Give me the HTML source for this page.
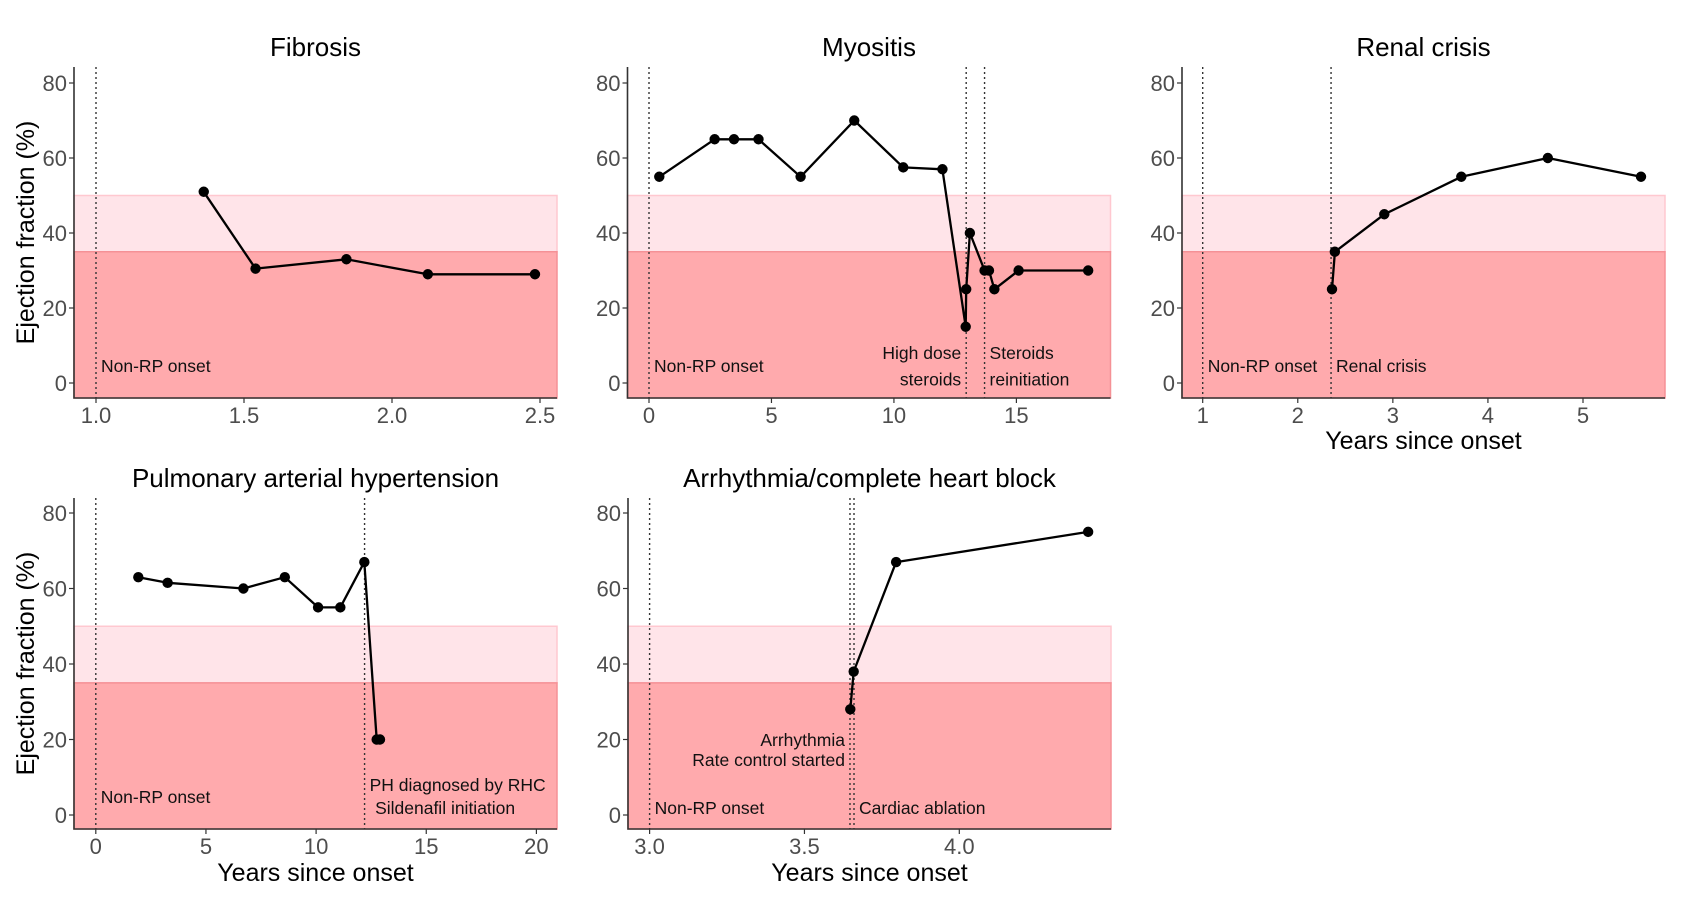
<!DOCTYPE html>
<html><head><meta charset="utf-8">
<style>
html,body{margin:0;padding:0;background:#fff;}
svg{display:block;font-family:"Liberation Sans",Arial,sans-serif;}
</style></head>
<body>
<svg id="chart" width="1686" height="906" viewBox="0 0 1686 906" xmlns="http://www.w3.org/2000/svg"></svg>
<script>
// ---- data ----
const yTicks = [0, 20, 40, 60, 80];
const fibX = [1.364, 1.539, 1.846, 2.121, 2.483];
const fibY = [51, 30.5, 33, 29, 29];
const fibTicks = [1.0, 1.5, 2.0, 2.5];
const fibTickLabels = ["1.0", "1.5", "2.0", "2.5"];
const fibEvents = [1.0];

const myoX = [0.42, 2.68, 3.47, 4.47, 6.19, 8.38, 10.38, 11.98, 12.93, 12.95, 13.1, 13.7, 13.88, 14.1, 15.09, 17.93];
const myoY = [55, 65, 65, 65, 55, 70, 57.5, 57, 15, 25, 40, 30, 30, 25, 30, 30];
const myoTicks = [0, 5, 10, 15];
const myoTickLabels = ["0", "5", "10", "15"];
const myoEvents = [0, 12.95, 13.7];

const renX = [2.36, 2.39, 2.91, 3.72, 4.63, 5.61];
const renY = [25, 35, 45, 55, 60, 55];
const renTicks = [1, 2, 3, 4, 5];
const renTickLabels = ["1", "2", "3", "4", "5"];
const renEvents = [1, 2.35];

const pahX = [1.93, 3.26, 6.70, 8.58, 10.09, 11.1, 12.19, 12.75, 12.9];
const pahY = [63, 61.5, 60, 63, 55, 55, 67, 20, 20];
const pahTicks = [0, 5, 10, 15, 20];
const pahTickLabels = ["0", "5", "10", "15", "20"];
const pahEvents = [0, 12.2];

const arrX = [3.648, 3.659, 3.796, 4.416];
const arrY = [28, 38, 67, 75];
const arrTicks = [3.0, 3.5, 4.0];
const arrTickLabels = ["3.0", "3.5", "4.0"];
const arrEvents = [3.0, 3.647, 3.66];

const NS = "http://www.w3.org/2000/svg";
const svg = document.getElementById("chart");
function mk(tag, attrs, parent) {
  const e = document.createElementNS(NS, tag);
  for (const k in attrs) e.setAttribute(k, attrs[k]);
  (parent || svg).appendChild(e);
  return e;
}

function panel(cfg) {
  const g = mk("g", {});
  
  
  const L = cfg.left, R = cfg.left + 483, T = cfg.top, B = cfg.bottom;
  const sx = v => cfg.x0px + (v - cfg.x0) * (cfg.x1px - cfg.x0px) / (cfg.x1 - cfg.x0);
  const sy = v => cfg.y0px + (cfg.y80px - cfg.y0px) * v / 80;
  const b1 = mk("rect", {x: L, y: sy(50), width: R - L, height: sy(35) - sy(50), fill: "#ffe4e9", stroke: "#ffc8d0", "stroke-width": 1.5}, g);
  
  
  const b2 = mk("rect", {x: L, y: sy(35), width: R - L, height: B - sy(35), fill: "#ffaaad", stroke: "#f59196", "stroke-width": 1.5}, g);
  
  
  cfg.events.forEach(ev => {
    const l = mk("line", {x1: sx(ev), x2: sx(ev), y1: T, y2: B, stroke: "#333", "stroke-width": 1.4, "stroke-dasharray": "2,3"}, g);
    
    
  });
  const ax = mk("path", {d: `M${L},${T} L${L},${B} L${R},${B}`, fill: "none", stroke: "#333", "stroke-width": 1.6}, g);
  
  
  yTicks.forEach(t => {
    mk("line", {x1: L - 5, x2: L, y1: sy(t), y2: sy(t), stroke: "#333", "stroke-width": 1.2}, g);
    const tx = mk("text", {x: L - 7, y: sy(t) + 8, "text-anchor": "end", "font-size": 22, fill: "#4d4d4d"}, g);
    tx.textContent = t;
    
    
  });
  cfg.ticks.forEach((t, i) => {
    mk("line", {x1: sx(t), x2: sx(t), y1: B, y2: B + 5, stroke: "#333", "stroke-width": 1.2}, g);
    const tx = mk("text", {x: sx(t), y: B + 25, "text-anchor": "middle", "font-size": 22, fill: "#4d4d4d"}, g);
    tx.textContent = cfg.tickLabels[i];
    
    
  });
  const ti = mk("text", {x: (L + R) / 2, y: cfg.titleY, "text-anchor": "middle", "font-size": 26, fill: "#000"}, g);
  ti.textContent = cfg.title;
  
  
  if (cfg.xTitle) {
    const xt = mk("text", {x: (L + R) / 2, y: cfg.xTitleY, "text-anchor": "middle", "font-size": 25, fill: "#000"}, g);
    xt.textContent = "Years since onset";
    
    
  }
  if (cfg.yTitle) {
    const cy = (T + B) / 2;
    const yt = mk("text", {x: 34, y: cy, "text-anchor": "middle", "font-size": 25, fill: "#000", transform: `rotate(-90 34 ${cy})`}, g);
    yt.textContent = "Ejection fraction (%)";
    
    
  }
  cfg.notes.forEach(n => {
    const tx = mk("text", {x: sx(n[0]) + (n[3] === "end" ? -5 : 5), y: sy(n[1]) + 6, "text-anchor": n[3], "font-size": 17.5, fill: "#111"}, g);
    tx.textContent = n[2];
    
    
  });
  const d = cfg.xs.map((x, i) => (i ? "L" : "M") + sx(x).toFixed(1) + "," + sy(cfg.ys[i]).toFixed(1)).join(" ");
  const ln = mk("path", {d: d, fill: "none", stroke: "#000", "stroke-width": 2.3, "stroke-linejoin": "round"}, g);
  
  
  cfg.xs.forEach((x, i) => {
    const c = mk("circle", {cx: sx(x), cy: sy(cfg.ys[i]), r: 5.2, fill: "#000"}, g);
    
    
  });
}

const row1 = {top: 67, bottom: 398, y0px: 383, y80px: 83, titleY: 56};
const row2 = {top: 498, bottom: 829, y0px: 815, y80px: 513, titleY: 487};

panel(Object.assign({}, row1, {name: "panel-fibrosis", title: "Fibrosis", left: 74, x0: 1.0, x1: 2.5, x0px: 96, x1px: 540,
  xs: fibX, ys: fibY, ticks: fibTicks, tickLabels: fibTickLabels, events: fibEvents, yTitle: true,
  notes: [[1.0, 4.5, "Non-RP onset", "start"]]}));
panel(Object.assign({}, row1, {name: "panel-myositis", title: "Myositis", left: 627.5, x0: 0, x1: 15, x0px: 649, x1px: 1016.4,
  xs: myoX, ys: myoY, ticks: myoTicks, tickLabels: myoTickLabels, events: myoEvents,
  notes: [[0, 4.5, "Non-RP onset", "start"], [12.95, 8, "High dose", "end"], [12.95, 1, "steroids", "end"],
          [13.7, 8, "Steroids", "start"], [13.7, 1, "reinitiation", "start"]]}));
panel(Object.assign({}, row1, {name: "panel-renal-crisis", title: "Renal crisis", left: 1182, x0: 1, x1: 5, x0px: 1202.7, x1px: 1583,
  xs: renX, ys: renY, ticks: renTicks, tickLabels: renTickLabels, events: renEvents, xTitle: true, xTitleY: 449,
  notes: [[1, 4.5, "Non-RP onset", "start"], [2.35, 4.5, "Renal crisis", "start"]]}));
panel(Object.assign({}, row2, {name: "panel-pah", title: "Pulmonary arterial hypertension", left: 74, x0: 0, x1: 20, x0px: 95.8, x1px: 536.4,
  xs: pahX, ys: pahY, ticks: pahTicks, tickLabels: pahTickLabels, events: pahEvents, yTitle: true, xTitle: true, xTitleY: 881,
  notes: [[0, 4.8, "Non-RP onset", "start"], [12.2, 8, "PH diagnosed by RHC", "start"], [12.45, 1.9, "Sildenafil initiation", "start"]]}));
panel(Object.assign({}, row2, {name: "panel-arrhythmia", title: "Arrhythmia/complete heart block", left: 628, x0: 3.0, x1: 4.0, x0px: 649.6, x1px: 959.3,
  xs: arrX, ys: arrY, ticks: arrTicks, tickLabels: arrTickLabels, events: arrEvents, xTitle: true, xTitleY: 881,
  notes: [[3.0, 1.9, "Non-RP onset", "start"], [3.647, 19.9, "Arrhythmia", "end"], [3.647, 14.6, "Rate control started", "end"],
          [3.66, 1.9, "Cardiac ablation", "start"]]}));
</script>
</body></html>
